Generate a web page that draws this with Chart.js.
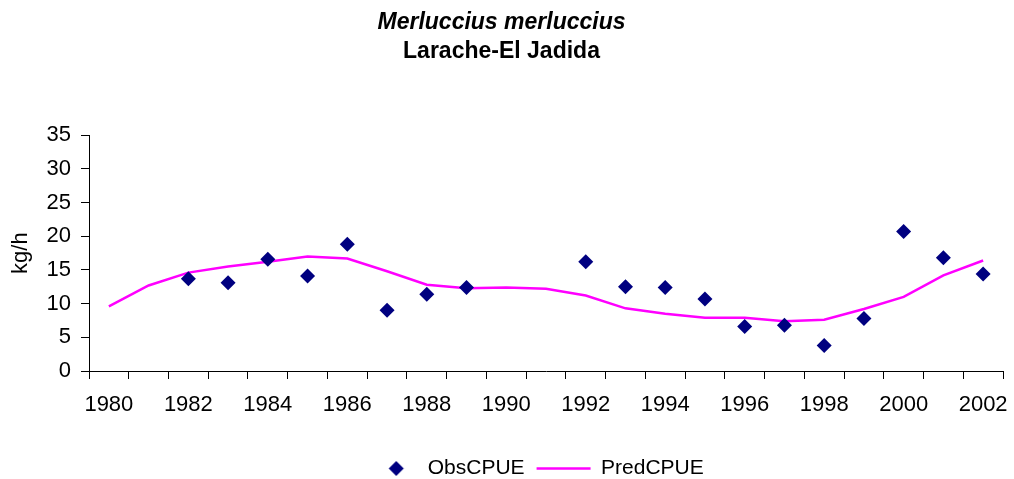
<!DOCTYPE html>
<html>
<head>
<meta charset="utf-8">
<script src="https://cdn.jsdelivr.net/npm/chart.js@4/dist/chart.umd.min.js"></script>
<style>
  html, body { margin: 0; padding: 0; background: #fff; }
  #grafico_cpue { display: block; }
</style>
</head>
<body>
<canvas id="grafico_cpue" width="1014" height="479"></canvas>
<script>
// valores
const anos = ['1980', '1981', '1982', '1983', '1984', '1985', '1986', '1987', '1988', '1989', '1990', '1991',
    '1992', '1993', '1994', '1995', '1996', '1997', '1998', '1999', '2000', '2001', '2002'];
const obsCPUE = [null, null, 13.7, 13.1, 16.6, 14.1, 18.8, 9.0, 11.4, 12.4, null, null,
    16.2, 12.5, 12.4, 10.7, 6.6, 6.8, 3.8, 7.8, 20.7, 16.8, 14.4];
const predCPUE = [9.6, 12.7, 14.6, 15.5, 16.2, 17.0, 16.7, 14.8, 12.8, 12.3, 12.4, 12.2,
    11.2, 9.3, 8.5, 7.9, 7.9, 7.4, 7.6, 9.2, 11.0, 14.2, 16.4];
const yTicks = { min: 0, max: 35, step: 5 };

const fonte = 'Arial, "Liberation Sans", sans-serif';

// losango para a legenda (deslocado para a direita dentro da caixa)
function criarLosango(largura, tam, centro, cor) {
    const c = document.createElement('canvas');
    c.width = largura; c.height = tam;
    const g = c.getContext('2d');
    g.fillStyle = cor;
    g.beginPath();
    g.moveTo(centro, 0);
    g.lineTo(centro + tam / 2, tam / 2);
    g.lineTo(centro, tam);
    g.lineTo(centro - tam / 2, tam / 2);
    g.closePath();
    g.fill();
    return c;
}
const losango = criarLosango(32, 15, 22, '#000080');

// a legenda do Excel fica um pouco à direita do centro
const deslocarLegenda = {
    id: 'deslocarLegenda',
    afterLayout(chart) {
        if (chart.legend) {
            chart.legend.left += 32;
            chart.legend.right += 32;
        }
    },
};

const ctx = document.getElementById('grafico_cpue').getContext('2d');
new Chart(ctx, {
    type: 'line',
    data: {
        labels: anos,
        datasets: [{
            label: 'ObsCPUE',
            data: obsCPUE,
            showLine: false,
            pointStyle: 'rectRot',
            pointRadius: 7.5,
            pointBackgroundColor: '#000080',
            pointBorderColor: '#000080',
            pointBorderWidth: 0,
            borderColor: '#000080',
            backgroundColor: '#000080',
        }, {
            label: 'PredCPUE',
            data: predCPUE,
            borderColor: '#FF00FF',
            backgroundColor: '#FF00FF',
            borderWidth: 2.5,
            pointRadius: 0,
            pointStyle: 'line',
            tension: 0,
        }],
    },
    plugins: [deslocarLegenda],
    options: {
        responsive: false,
        animation: false,
        layout: { padding: { top: 0, left: 0, right: 11, bottom: -10 } },
        plugins: {
            title: {
                display: true,
                text: 'Merluccius merluccius',
                color: '#000',
                font: { family: fonte, size: 23, weight: 'bold', style: 'italic', lineHeight: 1.2 },
                padding: { top: 9, bottom: 0 },
            },
            subtitle: {
                display: true,
                text: 'Larache-El Jadida',
                color: '#000',
                font: { family: fonte, size: 23, weight: 'bold', lineHeight: 1.2 },
                padding: { top: 1, bottom: 70 },
            },
            legend: {
                position: 'bottom',
                labels: {
                    color: '#000',
                    font: { family: fonte, size: 21 },
                    usePointStyle: true,
                    pointStyleWidth: 54,
                    padding: 12,
                    generateLabels(chart) {
                        const itens = Chart.defaults.plugins.legend.labels.generateLabels(chart);
                        itens[0].pointStyle = losango;
                        return itens;
                    },
                },
            },
            tooltip: { enabled: false },
        },
        scales: {
            x: {
                type: 'category',
                offset: true,
                grid: {
                    offset: true,
                    drawOnChartArea: false,
                    drawTicks: true,
                    tickLength: 8,
                    color: '#000',
                },
                border: { color: '#000', width: 1 },
                ticks: {
                    autoSkip: false,
                    maxRotation: 0,
                    padding: 5,
                    color: '#000',
                    font: { family: fonte, size: 22, lineHeight: 1.9 },
                    callback(valor, indice) {
                        const ano = anos[indice];
                        return Number(ano) % 2 === 0 ? ano : '';
                    },
                },
                afterFit(escala) { escala.height = 75; },
            },
            y: {
                min: yTicks.min,
                max: yTicks.max,
                grid: {
                    drawOnChartArea: false,
                    drawTicks: true,
                    tickLength: 8,
                    color: '#000',
                },
                border: { color: '#000', width: 1 },
                ticks: {
                    stepSize: yTicks.step,
                    padding: 10,
                    color: '#000',
                    font: { family: fonte, size: 22 },
                },
                title: {
                    display: true,
                    text: 'kg/h',
                    color: '#000',
                    font: { family: fonte, size: 22 },
                    padding: { top: 8, bottom: 0 },
                },
                afterFit(escala) { escala.width = 89; },
            },
        },
    },
});
</script>
</body>
</html>
